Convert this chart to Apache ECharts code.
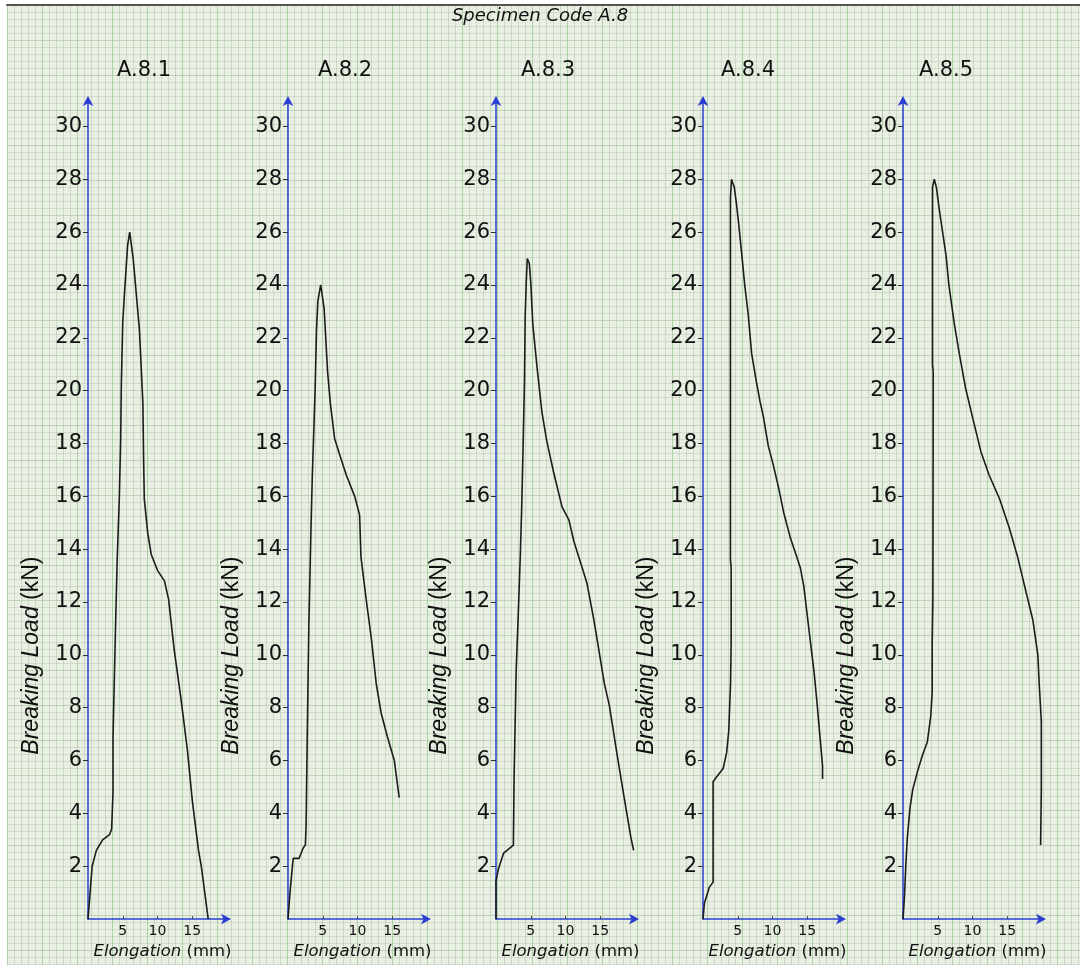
<!DOCTYPE html>
<html>
<head>
<meta charset="utf-8">
<script src="https://cdn.jsdelivr.net/npm/echarts@6/dist/echarts.min.js"></script>
<style>
  html, body { margin: 0; padding: 0; background: #ffffff; }
  #chart { width: 1080px; height: 965px; }
</style>
</head>
<body>
<div id="chart"></div>
<script>
// Load–elongation records for specimen code A.8 (five test pieces)
const panelNames = ['A.8.1', 'A.8.2', 'A.8.3', 'A.8.4', 'A.8.5'];
const loadTicks = [2, 4, 6, 8, 10, 12, 14, 16, 18, 20, 22, 24, 26, 28, 30];
const elongTicks = [5, 10, 15];

// A.8.1
const elong1 = [0, 0.3, 0.6, 1.2, 2.1, 3.1, 3.4, 3.6, 3.6, 4.0, 4.2, 4.5, 4.7, 4.8, 5.0, 5.3, 5.7, 6.0,
  6.5, 7.4, 7.9, 8.0, 8.1, 8.6, 9.1, 10.0, 11.0, 11.6, 12.4, 13.4, 14.3, 15.0, 15.9, 16.3, 17.3];
const load1 = [0, 1.0, 2.0, 2.6, 3.0, 3.2, 3.4, 4.8, 6.9, 11.5, 13.6, 15.9, 18.1, 20.3, 22.6, 23.9, 25.5, 26.0,
  25.0, 22.3, 19.5, 17.4, 15.9, 14.6, 13.8, 13.2, 12.8, 12.1, 10.2, 8.3, 6.4, 4.5, 2.6, 2.0, 0];

// A.8.2
const elong2 = [0, 0.3, 0.6, 0.75, 1.6, 2.2, 2.5, 2.6, 2.8, 3.0, 3.3, 3.5, 3.9, 4.1, 4.3, 4.7,
  5.2, 5.7, 6.1, 6.7, 7.4, 8.4, 9.6, 10.3, 10.5, 11.2, 12.0, 12.7, 13.4, 14.3, 15.3, 16.0];
const load2 = [0, 1.05, 1.9, 2.3, 2.3, 2.7, 2.8, 3.5, 7.5, 11.1, 14.7, 16.8, 20.0, 22.3, 23.4, 24.0,
  23.1, 20.7, 19.5, 18.2, 17.6, 16.8, 16.0, 15.3, 13.7, 12.2, 10.6, 8.9, 7.8, 6.9, 6.0, 4.6];

// A.8.3
const elong3 = [0, 0, 0.35, 1.1, 2.5, 2.6, 2.9, 3.2, 3.5, 3.7, 3.9, 4.1, 4.2, 4.35, 4.5,
  4.8, 5.0, 5.3, 5.9, 6.6, 7.3, 8.3, 9.5, 10.5, 11.2, 12.4, 13.1, 14.1, 14.6, 15.6, 16.3, 17.5, 18.5, 19.4, 19.8];
const load3 = [0, 1.45, 1.9, 2.5, 2.8, 5.3, 9.4, 11.5, 13.8, 15.6, 17.9, 20.4, 22.8, 24.1, 25.0,
  24.8, 24.1, 22.5, 20.9, 19.2, 18.1, 16.9, 15.6, 15.1, 14.3, 13.3, 12.7, 11.3, 10.5, 8.9, 8.1, 6.1, 4.5, 3.1, 2.6];

// A.8.4
const elong4 = [0, 0.2, 0.9, 1.45, 1.45, 2.0, 2.9, 3.4, 3.7, 3.96, 4.05, 4.05, 3.95, 3.95, 3.95, 4.1,
  4.5, 4.8, 5.1, 5.6, 6.0, 6.5, 7.0, 7.7, 8.2, 8.7, 9.4, 10.1, 10.9, 11.6, 12.6, 13.5, 14.0, 14.5, 15.0,
  15.5, 16.0, 16.4, 16.9, 17.2, 17.2];
const load4 = [0, 0.6, 1.2, 1.4, 5.2, 5.4, 5.7, 6.3, 7.1, 8.9, 10.4, 13.3, 13.6, 23.8, 27.3, 28.0,
  27.7, 27.1, 26.4, 25.1, 24.0, 22.9, 21.4, 20.3, 19.6, 19.0, 17.9, 17.2, 16.3, 15.4, 14.4, 13.7, 13.3, 12.6, 11.5,
  10.4, 9.3, 8.2, 6.7, 5.8, 5.3];

// A.8.5
const elong5 = [0, 0.2, 0.4, 0.63, 1.0, 1.4, 2.1, 2.8, 3.5, 4.0, 4.2, 4.2, 4.3, 4.35, 4.25, 4.25, 4.5,
  4.8, 5.2, 5.7, 6.2, 6.6, 7.4, 8.1, 9.0, 10.0, 11.2, 12.4, 13.9, 15.3, 16.5, 17.5, 18.7, 19.4, 19.6,
  19.9, 19.9, 19.8];
const load5 = [0, 0.8, 2.0, 3.1, 4.2, 4.9, 5.6, 6.2, 6.7, 7.7, 8.6, 10.4, 12.2, 20.7, 21.0, 27.7, 28.0,
  27.7, 26.9, 26.0, 25.1, 24.0, 22.5, 21.4, 20.1, 19.0, 17.7, 16.8, 15.9, 14.8, 13.7, 12.6, 11.3, 10.0, 8.9,
  7.5, 4.9, 2.8];

const elongSets = [elong1, elong2, elong3, elong4, elong5];
const loadSets = [load1, load2, load3, load4, load5];

// Layout of the five small plots
const plotLeft = [88, 288, 496, 703, 903];
const plotWidth = 139;
const plotTop = 100;
const plotBottom = 45;
const titleCenter = [144, 345, 548, 748, 946];

const FONT = '"Liberation Sans", Arial, sans-serif';
const WIDE = '"DejaVu Sans", "Liberation Sans", sans-serif';
const INK = '#111111';
const AXIS_BLUE = '#2a3fd2';

const chart = echarts.init(document.getElementById('chart'), null, { renderer: 'canvas' });

// Graph-paper backdrop (grid 0)
const grids = [{
  left: 7, top: 5, right: 0, bottom: 0,
  show: true, backgroundColor: '#e9f0e3', borderWidth: 0, z: 0
}];
const xAxes = [{
  gridIndex: 0, type: 'value', min: 0, max: 1073, interval: 35, position: 'top',
  axisLine: { show: true, lineStyle: { color: '#555', width: 2 } },
  axisTick: { show: false }, axisLabel: { show: false },
  splitLine: { show: true, lineStyle: { color: 'rgba(130,185,120,0.55)', width: 1 } },
  minorTick: { show: false, splitNumber: 5 },
  minorSplitLine: { show: true, lineStyle: { color: 'rgba(150,175,150,0.35)', width: 1 } },
  z: 0
}];
const yAxes = [{
  gridIndex: 0, type: 'value', min: 0, max: 960, interval: 35, inverse: true,
  axisLine: { show: false }, axisTick: { show: false }, axisLabel: { show: false },
  splitLine: { show: true, lineStyle: { color: 'rgba(140,180,130,0.45)', width: 1 } },
  minorTick: { show: false, splitNumber: 5 },
  minorSplitLine: { show: true, lineStyle: { color: 'rgba(155,175,155,0.3)', width: 1 } },
  z: 0
}];
const series = [{ type: 'line', xAxisIndex: 0, yAxisIndex: 0, data: [], silent: true }];

const titles = [{
  text: 'Specimen Code A.8',
  left: 'center', top: 7, padding: 0,
  textStyle: { fontFamily: WIDE, fontSize: 18, fontStyle: 'italic', fontWeight: 'normal', color: INK }
}];

panelNames.forEach((name, i) => {
  const g = i + 1;
  grids.push({ left: plotLeft[i], width: plotWidth, top: plotTop, bottom: plotBottom, z: 2 });

  xAxes.push({
    gridIndex: g, type: 'value', min: 0, max: 20, interval: 5,
    axisLine: { show: true, symbol: ['none', 'arrow'], symbolSize: [8, 10], symbolOffset: [0, 4],
      lineStyle: { color: AXIS_BLUE, width: 1.5 } },
    axisTick: { show: true, customValues: elongTicks, length: 3, inside: true, lineStyle: { color: '#444' } },
    axisLabel: { customValues: elongTicks, margin: 5, fontFamily: WIDE, fontSize: 14, color: INK },
    splitLine: { show: false },
    name: '{i|Elongation} (mm)',
    nameLocation: 'middle', nameGap: 20,
    nameTextStyle: {
      fontFamily: WIDE, fontSize: 16.5, color: INK, padding: [0, 0, 0, 10],
      rich: { i: { fontFamily: WIDE, fontSize: 16.5, fontStyle: 'italic', color: INK } }
    },
    z: 3
  });

  yAxes.push({
    gridIndex: g, type: 'value', min: 0, max: 31, interval: 2,
    axisLine: { show: true, symbol: ['none', 'arrow'], symbolSize: [8, 10], symbolOffset: [0, 4],
      lineStyle: { color: AXIS_BLUE, width: 1.5 } },
    axisTick: { show: true, customValues: loadTicks, length: 5, lineStyle: { color: '#333' } },
    axisLabel: { customValues: loadTicks, margin: 6, fontFamily: WIDE, fontSize: 21, color: INK },
    splitLine: { show: false },
    name: '{i|Breaking Load} (kN)',
    nameLocation: 'middle', nameGap: 45, nameRotate: 90,
    nameTextStyle: {
      fontFamily: FONT, fontSize: 23, color: INK, padding: [0, 292, 0, 0],
      rich: { i: { fontFamily: FONT, fontSize: 23, fontStyle: 'italic', color: INK } }
    },
    z: 3
  });

  series.push({
    type: 'line', name: name, xAxisIndex: g, yAxisIndex: g,
    data: elongSets[i].map((x, j) => [x, loadSets[i][j]]),
    showSymbol: false, symbol: 'none', smooth: false, clip: false,
    lineStyle: { color: '#1c1c1c', width: 1.6 },
    z: 4
  });

  titles.push({
    text: name,
    left: titleCenter[i] - 5, top: 55, textAlign: 'center',
    textStyle: { fontFamily: WIDE, fontSize: 21, fontWeight: 'normal', color: INK }
  });
});

chart.setOption({
  animation: false,
  backgroundColor: '#ffffff',
  title: titles,
  grid: grids,
  xAxis: xAxes,
  yAxis: yAxes,
  series: series
});
</script>
</body>
</html>
